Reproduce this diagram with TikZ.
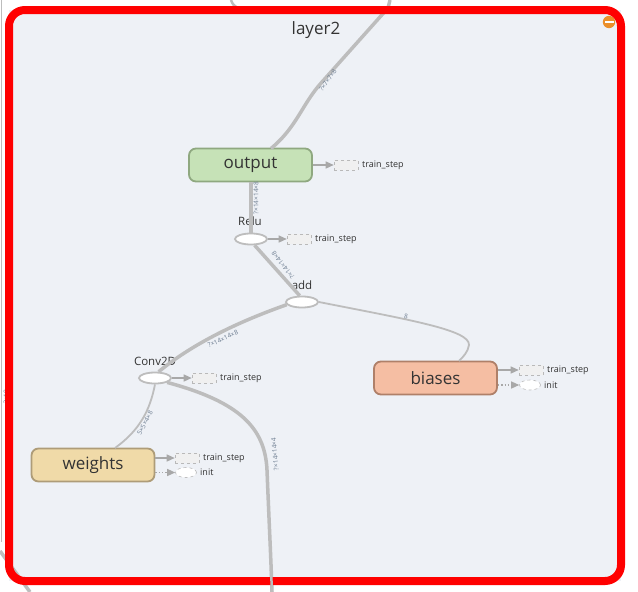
\documentclass[tikz,border=0pt]{standalone}
\usepackage{fontspec}
\setmainfont{Open Sans}
\usetikzlibrary{arrows.meta,shapes.geometric}
\definecolor{bgpanel}{HTML}{EEF1F6}
\definecolor{edgegray}{HTML}{BDBDBD}
\definecolor{auxgray}{HTML}{A8A8A8}
\definecolor{lblcol}{HTML}{6F7F92}
\definecolor{txtcol}{HTML}{333333}
\definecolor{outfill}{HTML}{C6E2B7}
\definecolor{outdraw}{HTML}{8FA880}
\definecolor{wfill}{HTML}{F0DAA8}
\definecolor{wdraw}{HTML}{AE9C78}
\definecolor{bfill}{HTML}{F5BEA3}
\definecolor{bdraw}{HTML}{AF8069}
\definecolor{iconorange}{HTML}{EB8F2A}
\tikzset{
  opbox/.style={draw, rounded corners=7pt, line width=1.8pt, minimum width=123pt, minimum height=33pt, inner sep=0pt, font=\fontsize{17}{17}\selectfont, text=txtcol},
  opell/.style={ellipse, draw=edgegray, fill=white, line width=1.8pt, minimum width=32pt, minimum height=11pt, inner sep=0pt},
  oplbl/.style={font=\fontsize{11.5}{11.5}\selectfont, text=txtcol, inner sep=0pt},
  tsbox/.style={draw=auxgray!80, dashed, fill=black!6, line width=0.6pt, minimum width=24pt, minimum height=10pt, inner sep=0pt},
  initell/.style={ellipse, draw=auxgray!80, dashed, fill=white, line width=0.6pt, minimum width=21pt, minimum height=10pt, inner sep=0pt},
  auxtxt/.style={font=\fontsize{9}{9}\selectfont, text=txtcol, anchor=west, inner sep=0pt},
  auxarrow/.style={draw=auxgray, line width=1.3pt, -{Triangle[length=8pt,width=7pt]}},
  initarrow/.style={draw=auxgray, line width=1.3pt, dotted, -{Triangle[length=8pt,width=7pt]}},
  thickedge/.style={draw=edgegray, line width=3.5pt},
  thinedge/.style={draw=edgegray, line width=1.8pt},
  elbl/.style={font=\fontsize{6.5}{6.5}\selectfont, text=lblcol, inner sep=0pt},
}
\begin{document}
\begin{tikzpicture}[x=1pt,y=-1pt]
\useasboundingbox (0,0) rectangle (638,592);
% panel background
\fill[bgpanel] (9,10) rectangle (621,581);
% outside lines
\draw[edgegray, line width=1.2pt] (1.5,0) -- (1.5,542);
\draw[edgegray, line width=3.5pt] (0,551) -- (30,592);
\draw[edgegray, line width=2.5pt] (231,0) .. controls (233,5) .. (241,10);
\node[elbl, rotate=90] (lbl10) at (6,397) {?×10};

% nodes
\node[opbox, fill=outfill, draw=outdraw] (output) at (250.5,165) {output};
\node[opbox, fill=wfill, draw=wdraw] (weights) at (93,465) {weights};
\node[opbox, fill=bfill, draw=bdraw] (biases) at (435.5,378) {biases};
\node[opell] (relu) at (251,239) {};
\node[opell] (add) at (302,302) {};
\node[opell] (conv) at (155,378) {};
\node[oplbl] (relul) at (250,221) {Relu};
\node[oplbl] (addl) at (302,285) {add};
\node[oplbl] (convl) at (155,361) {Conv2D};

% title and icon
\node[font=\fontsize{17}{17}\selectfont, text=txtcol, inner sep=0pt] (title) at (316,30) {layer2};
\fill[iconorange] (609,22) circle (6.2);
\fill[white] (604.5,20.8) rectangle (613.5,23.2);

% coordinates for edges
\coordinate (topout) at (390,0);
\coordinate (botin) at (272,592);
\coordinate (outtop) at (271,148.5);
\coordinate (btop) at (459,361);
\coordinate (wtop) at (115,448);

% main edges
\draw[thickedge] (outtop) .. controls (297,127) and (302,104) .. (322,82) -- (388,8) -- (topout);
\draw[thickedge] (output.south -| relu.north) -- (relu.north);
\draw[thickedge] (relu.-60) -- (add.110);
\draw[thickedge] (conv.60) .. controls (190,346) and (232,324) .. (add.190);
\draw[thinedge] (add.east) .. controls (410,320) and (470,330) .. (469,345) .. controls (468,352) and (463,357) .. (btop);
\draw[thinedge] (wtop) .. controls (140,430) and (150,410) .. (conv.south);
\draw[thickedge] (conv.-20) .. controls (240,402) and (265,428) .. (267,470) .. controls (269,520) and (271,560) .. (botin);

% edge labels
\node[elbl, rotate=55] (l1) at (328,80) {?×7×7×8};
\node[elbl, rotate=90] (l2) at (256,198) {?×14×14×8};
\node[elbl, rotate=128] (l3) at (283,265) {?×14×14×8};
\node[elbl, rotate=25] (l4) at (223,339) {?×14×14×8};
\node[elbl, rotate=62] (l5) at (145,423) {5×5×4×8};
\node[elbl, rotate=95] (l6) at (275,454) {?×14×14×4};
\node[elbl, rotate=-8] (l7) at (406,316) {8};

% train_step / init auxiliaries
\node[tsbox] (ts1) at (346,165) {};
\node[auxtxt] (ts1t) at (362,165) {train\_step};
\draw[auxarrow] (output.east) -- (ts1.west);

\node[tsbox] (ts2) at (299,239) {};
\node[auxtxt] (ts2t) at (315,239) {train\_step};
\draw[auxarrow] (relu.east) -- (ts2.west);

\node[tsbox] (ts3) at (204,378) {};
\node[auxtxt] (ts3t) at (220,378) {train\_step};
\draw[auxarrow] (conv.east) -- (ts3.west);

\node[tsbox] (ts4) at (187,458) {};
\node[auxtxt] (ts4t) at (203,458) {train\_step};
\draw[auxarrow] (weights.east |- ts4) -- (ts4.west);
\node[initell] (in4) at (186,472.5) {};
\node[auxtxt] (in4t) at (200,472.5) {init};
\draw[initarrow] (weights.east |- in4) -- (in4.west);

\node[tsbox] (ts5) at (531,370) {};
\node[auxtxt] (ts5t) at (547,370) {train\_step};
\draw[auxarrow] (biases.east |- ts5) -- (ts5.west);
\node[initell] (in5) at (530,385) {};
\node[auxtxt] (in5t) at (544,385) {init};
\draw[initarrow] (biases.east |- in5) -- (in5.west);

% red border
\draw[red, line width=8pt, rounded corners=16pt] (9,10) rectangle (621,581);
% bottom edge crosses over the border
\draw[edgegray, line width=2.5pt] (271,570) -- (botin);
\end{tikzpicture}
\end{document}
